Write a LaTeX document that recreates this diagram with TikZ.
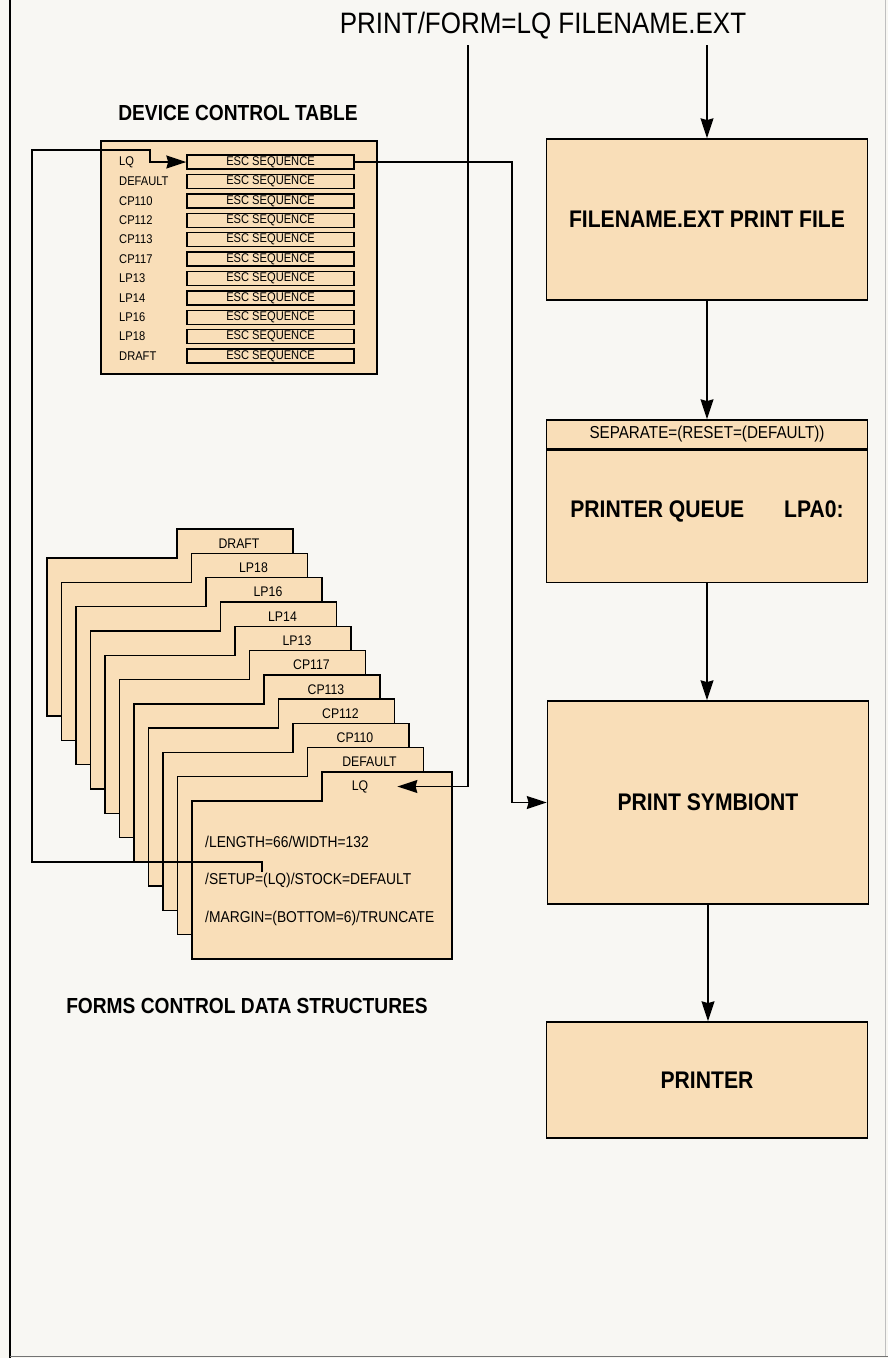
\documentclass[tikz,border=0pt]{standalone}
\usepackage{fontspec}
\setmainfont{Liberation Sans}
\newfontfamily\narrowfont[FakeStretch=0.88]{Liberation Sans}
\usetikzlibrary{arrows.meta, positioning, calc}
\definecolor{formtan}{RGB}{249,222,184}
\definecolor{paper}{RGB}{248,247,243}
\newcommand{\pxu}{0.03cm}

\begin{document}
\begin{tikzpicture}[x=0.03cm, y=-0.03cm,
        block/.style={rectangle, draw=black, line width=1.3pt, fill=formtan, minimum width=321*\pxu, inner sep=0pt, font=\narrowfont\bfseries\fontsize{20.5}{24}\selectfont},
        escbox/.style={rectangle, draw=black, line width=1.2pt, fill=formtan, minimum width=167*\pxu, minimum height=14*\pxu, inner sep=0pt, font=\narrowfont\fontsize{10.8}{12}\selectfont},
        rowlabel/.style={anchor=west, inner sep=0pt, font=\narrowfont\fontsize{10.8}{12}\selectfont},
        tablabel/.style={inner sep=0pt, font=\narrowfont\fontsize{11.9}{13}\selectfont},
        formline/.style={anchor=west, inner sep=0pt, font=\narrowfont\fontsize{13.4}{15}\selectfont},
        heading/.style={anchor=base, inner sep=0pt, font=\narrowfont\bfseries\fontsize{18.6}{22}\selectfont},
        sheet/.style={draw=black, line width=1.2pt, fill=formtan},
        flow/.style={-{Stealth[length=17pt, width=11pt, inset=1.5pt]}, line width=1.3pt}
    ]
        % Pagina
        \fill[paper] (0,0) rectangle (888,1358);
        \useasboundingbox (0,0) rectangle (888,1358);
        \draw[line width=1.1pt] (10,0) -- (10,1358);
        \draw[line width=0.8pt, black!55] (10,1356) -- (888,1356);
        \draw[line width=0.6pt, black!25] (885,0) -- (885,1356);

        % Comanda
        \node[anchor=base, inner sep=0pt, font=\narrowfont\fontsize{25.2}{30}\selectfont] (cmd) at (543,33) {PRINT/FORM=LQ FILENAME.EXT};
        \coordinate (cmdform) at (468,45);

        % Device control table
        \node[heading] (dcttitle) at (238,120) {DEVICE CONTROL TABLE};
        \node[rectangle, draw=black, line width=1.2pt, fill=formtan, minimum width=276*\pxu, minimum height=233*\pxu, inner sep=0pt] (dct) at (239,257.5) {};
        \foreach \name [count=\i from 0] in {LQ,DEFAULT,CP110,CP112,CP113,CP117,LP13,LP14,LP16,LP18,DRAFT} {
            \node[rowlabel] (lbl\i) at (119,162+19.4*\i) {\name};
            \node[escbox] (esc\i) at (270.5,162+19.4*\i) {ESC SEQUENCE};
        }

        % Formulare
        \foreach \name [count=\i from 0] in {DRAFT,LP18,LP16,LP14,LP13,CP117,CP113,CP112,CP110,DEFAULT,LQ} {
            \pgfmathsetmacro{\fl}{47+14.5*\i}
            \pgfmathsetmacro{\ft}{529+24.3*\i}
            \pgfmathsetmacro{\fr}{\i<10 ? \fl+246 : \fl+260}
            \pgfmathsetmacro{\fx}{\i<10 ? \fl+192 : 360}
            \draw[sheet] (\fl,\ft+29) -- (\fl+130,\ft+29) -- (\fl+130,\ft) -- (\fr,\ft) -- (\fr,\ft+187) -- (\fl,\ft+187) -- cycle;
            \node[tablabel] (tab\i) at (\fx,\ft+14.5) {\name};
        }
        \node[formline] (lqlen) at (205,842) {/LENGTH=66/WIDTH=132};
        \node[formline] (lqsetup) at (205,880) {/SETUP=(LQ)/STOCK=DEFAULT};
        \node[formline] (lqmargin) at (205,918) {/MARGIN=(BOTTOM=6)/TRUNCATE};
        \node[heading] (formstitle) at (247,1013) {FORMS CONTROL DATA STRUCTURES};
        \coordinate (lqin) at ($(tab10.east)+(29,0)$);
        \coordinate (setuptick) at (262,872);

        % Coada si simbiont
        \node[block, minimum height=161*\pxu] (file) at (707,219.5) {FILENAME.EXT PRINT FILE};
        \node[block, minimum height=29*\pxu, font=\narrowfont\fontsize{14.75}{17}\selectfont] (qhead) at (707,434.5) {SEPARATE=(RESET=(DEFAULT))};
        \node[block, minimum height=132*\pxu, text depth=12pt, below=0pt of qhead] (queue) {PRINTER QUEUE\hspace{1.2cm}LPA0:};
        \node[block, minimum height=203*\pxu] (symb) at (708,802.5) {PRINT SYMBIONT};
        \node[block, minimum height=116*\pxu] (prn) at (707,1080) {PRINTER};
        \coordinate (feed) at (512,162);

        % Legaturi
        \draw[flow] (file.north |- cmdform) -- (file.north);
        \draw[flow] (file) -- (qhead);
        \draw[flow] (queue.south) -- (queue.south |- symb.north);
        \draw[flow] (symb) -- (symb.south |- prn.north);
        \draw[flow] (cmdform) |- (lqin);
        \draw[flow] (esc0.east) -- (feed) |- (symb.west);
        \draw[flow] (setuptick) -- ++(0,-10) -| (32,150) -| (150,162) -- (esc0.west);

    \end{tikzpicture}
\end{document}
